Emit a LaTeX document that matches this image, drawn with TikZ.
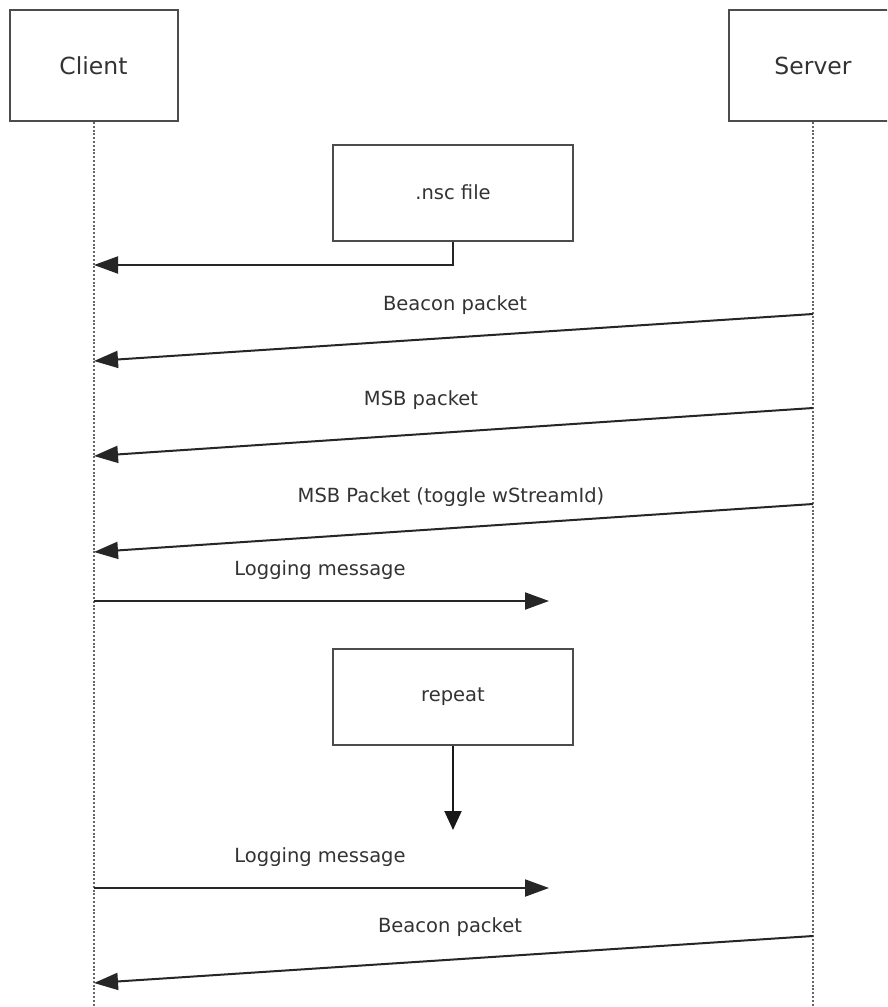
\documentclass[tikz,border=0pt]{standalone}
\usepackage{fontspec}
\setmainfont{DejaVu Sans}
\usetikzlibrary{arrows.meta}
\begin{document}
\begin{tikzpicture}[x=1pt,y=-1pt,
  box/.style={draw=black!70, line width=2pt, fill=white, inner sep=0pt, text=black!80},
  actor/.style={box, minimum width=168pt, minimum height=111pt, font=\fontsize{23.5}{28}\selectfont},
  stepbox/.style={box, minimum width=240pt, minimum height=96pt, font=\fontsize{19.5}{23}\selectfont},
  life/.style={draw=black!60, line width=2pt, dash pattern=on 2pt off 1.8pt},
  msg/.style={draw=black!85, line width=2pt, -{Triangle[length=24pt,width=17pt]}},
  down/.style={draw=black!90, line width=2pt, -{Triangle[length=19pt,width=17pt]}},
  lbl/.style={text=black!80, inner sep=0pt, font=\fontsize{19.5}{23}\selectfont}]
\clip (0,0) rectangle (887,1007);
\fill[white] (0,0) rectangle (887,1007);

% lifelines
\coordinate (cend) at (94,1010);
\coordinate (send) at (813,1010);
\node[actor] (client) at (93.5,65.5) {Client};
\node[actor] (server) at (813,65.5) {Server};
\draw[life] (client.south -| cend) -- (cend);
\draw[life] (server.south) -- (send);

% .nsc file
\node[stepbox] (nsc) at (453,192.5) {.nsc file};
\coordinate (c0) at (94,265);
\draw[msg] (nsc.south) |- (c0);

% messages
\coordinate (s1) at (813,314);  \coordinate (c1) at (94,361);
\coordinate (s2) at (813,408);  \coordinate (c2) at (94,456);
\coordinate (s3) at (813,504);  \coordinate (c3) at (94,552);
\coordinate (c4) at (94,601);   \coordinate (e4) at (549,601);
\coordinate (c5) at (94,888);   \coordinate (e5) at (549,888);
\coordinate (s6) at (813,936);  \coordinate (c6) at (94,983);

\draw[msg] (s1) -- (c1);
\draw[msg] (s2) -- (c2);
\draw[msg] (s3) -- (c3);
\draw[msg] (c4) -- (e4);
\draw[msg] (c5) -- (e5);
\draw[msg] (s6) -- (c6);

\node[lbl] (l1) at (455,305) {Beacon packet};
\node[lbl] (l2) at (421,400) {MSB packet};
\node[lbl] (l3) at (451,497) {MSB Packet (toggle wStreamId)};
\node[lbl] (l4) at (320,570) {Logging message};
\node[lbl] (l5) at (320,857) {Logging message};
\node[lbl] (l6) at (450,927) {Beacon packet};

% repeat
\node[stepbox] (rep) at (453,696.5) {repeat};
\coordinate (r1) at (453,830);
\draw[down] (rep.south) -- (r1);
\end{tikzpicture}
\end{document}
